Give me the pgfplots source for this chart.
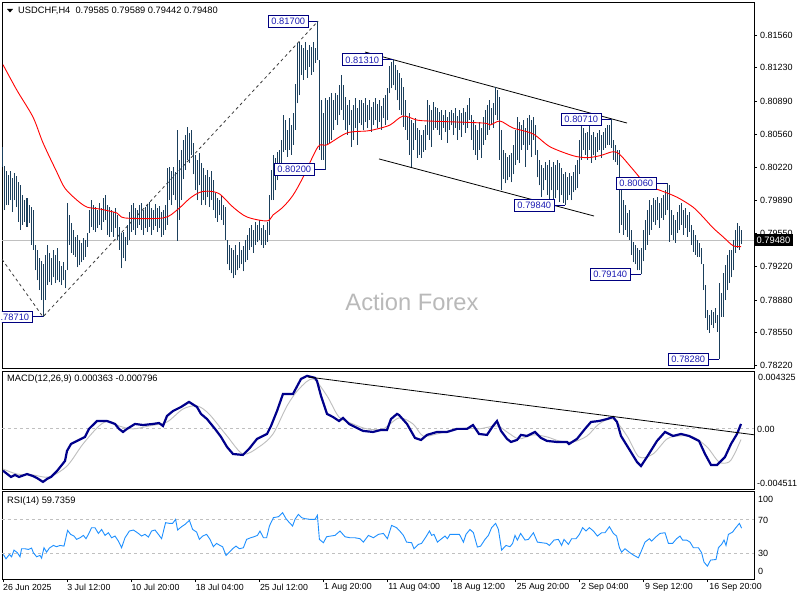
\documentclass[border=0pt]{standalone}
\usepackage{pgfplots}
\pgfplotsset{compat=1.18}
\usepackage{pgfplotstable}
\usepackage{fontspec}
\setmainfont{Liberation Sans}

\definecolor{barcol}{HTML}{1B3F5C}
\definecolor{macdcol}{HTML}{00008B}
\definecolor{sigcol}{HTML}{BEBEBE}
\definecolor{rsicol}{HTML}{1E90FF}
\definecolor{lvlcol}{HTML}{C0C0C0}
\definecolor{boxcol}{HTML}{000080}
\definecolor{boxtxt}{HTML}{1C1CB4}
\definecolor{trendcol}{HTML}{3C3C3C}
\definecolor{wmcol}{HTML}{B9B9B9}

% H4 bars: index, high, low
\pgfplotstableread{
i h l
0 0.8043 0.8023
1 0.8024 0.7979
2 0.8018 0.7984
3 0.8014 0.7984
4 0.8018 0.7989
5 0.8011 0.7977
6 0.8016 0.7989
7 0.8013 0.7982
8 0.8007 0.7967
9 0.8004 0.7959
10 0.7994 0.7964
11 0.7989 0.7967
12 0.7991 0.7962
13 0.7984 0.7966
14 0.7982 0.7944
15 0.7979 0.7939
16 0.7944 0.7918
17 0.7939 0.7908
18 0.7931 0.7898
19 0.7927 0.7888
20 0.7924 0.7871
21 0.7934 0.7888
22 0.7944 0.7903
23 0.7936 0.7906
24 0.7931 0.7903
25 0.7939 0.7911
26 0.7934 0.7905
27 0.7941 0.7908
28 0.7927 0.7906
29 0.7922 0.7903
30 0.7926 0.7908
31 0.7918 0.7900
32 0.7986 0.7918
33 0.7974 0.7944
34 0.7966 0.7936
35 0.7959 0.7934
36 0.7952 0.7932
37 0.7954 0.7921
38 0.7949 0.7923
39 0.7946 0.7926
40 0.7951 0.7929
41 0.7949 0.7932
42 0.7956 0.7942
43 0.7979 0.7956
44 0.7989 0.7962
45 0.7984 0.7959
46 0.7982 0.7957
47 0.7979 0.7961
48 0.7986 0.7964
49 0.7981 0.7959
50 0.7991 0.7967
51 0.7994 0.7969
52 0.7984 0.7954
53 0.7982 0.7952
54 0.7979 0.7957
55 0.7977 0.7952
56 0.7981 0.7961
57 0.7974 0.7949
58 0.7962 0.7939
59 0.7956 0.7920
60 0.7957 0.7931
61 0.7952 0.7927
62 0.7964 0.7944
63 0.7977 0.7949
64 0.7984 0.7957
65 0.7986 0.7959
66 0.7981 0.7954
67 0.7979 0.7961
68 0.7984 0.7964
69 0.7986 0.7959
70 0.7979 0.7954
71 0.7982 0.7961
72 0.7984 0.7957
73 0.7987 0.7962
74 0.7981 0.7954
75 0.7979 0.7959
76 0.7985 0.7963
77 0.7981 0.7957
78 0.7983 0.7961
79 0.7977 0.7952
80 0.7979 0.7954
81 0.7984 0.7959
82 0.8022 0.7964
83 0.8023 0.7989
84 0.8018 0.7984
85 0.8023 0.7994
86 0.8017 0.7989
87 0.8060 0.7948
88 0.8030 0.7969
89 0.8040 0.7989
90 0.8050 0.8010
91 0.8055 0.8020
92 0.8063 0.8030
93 0.8057 0.8027
94 0.8060 0.8035
95 0.8047 0.8015
96 0.8035 0.7999
97 0.8030 0.7989
98 0.8037 0.8004
99 0.8027 0.7984
100 0.8022 0.7989
101 0.8014 0.7984
102 0.8020 0.7992
103 0.8012 0.7982
104 0.8018 0.7989
105 0.8009 0.7979
106 0.7996 0.7971
107 0.7991 0.7967
108 0.7989 0.7974
109 0.7994 0.7969
110 0.7984 0.7964
111 0.7982 0.7949
112 0.7949 0.7924
113 0.7944 0.7918
114 0.7941 0.7915
115 0.7939 0.7910
116 0.7944 0.7913
117 0.7934 0.7918
118 0.7947 0.7920
119 0.7939 0.7924
120 0.7943 0.7917
121 0.7949 0.7926
122 0.7954 0.7929
123 0.7961 0.7939
124 0.7964 0.7942
125 0.7959 0.7936
126 0.7967 0.7944
127 0.7964 0.7947
128 0.7969 0.7949
129 0.7961 0.7944
130 0.7964 0.7941
131 0.7959 0.7944
132 0.7967 0.7947
133 0.7994 0.7954
134 0.8020 0.7989
135 0.8035 0.7989
136 0.8032 0.7999
137 0.8038 0.8009
138 0.8040 0.8020
139 0.8050 0.8025
140 0.8075 0.8038
141 0.8070 0.8040
142 0.8060 0.8033
143 0.8072 0.8040
144 0.8065 0.8035
145 0.8077 0.8045
146 0.8106 0.8060
147 0.8148 0.8087
148 0.8149 0.8095
149 0.8146 0.8116
150 0.8143 0.8111
151 0.8149 0.8121
152 0.8141 0.8113
153 0.8146 0.8124
154 0.8144 0.8116
155 0.8149 0.8119
156 0.8143 0.8128
157 0.8170 0.8131
158 0.8131 0.8040
159 0.8090 0.8030
160 0.8077 0.8030
161 0.8092 0.8020
162 0.8090 0.8045
163 0.8093 0.8047
164 0.8097 0.8050
165 0.8090 0.8060
166 0.8097 0.8070
167 0.8095 0.8065
168 0.8105 0.8075
169 0.8116 0.8080
170 0.8105 0.8070
171 0.8093 0.8060
172 0.8085 0.8055
173 0.8090 0.8065
174 0.8080 0.8043
175 0.8085 0.8050
176 0.8092 0.8062
177 0.8082 0.8045
178 0.8090 0.8067
179 0.8090 0.8065
180 0.8087 0.8060
181 0.8092 0.8068
182 0.8085 0.8062
183 0.8090 0.8070
184 0.8083 0.8058
185 0.8088 0.8065
186 0.8092 0.8070
187 0.8086 0.8062
188 0.8090 0.8068
189 0.8084 0.8060
190 0.8092 0.8072
191 0.8095 0.8065
192 0.8102 0.8070
193 0.8125 0.8097
194 0.8129 0.8102
195 0.8131 0.8105
196 0.8126 0.8100
197 0.8121 0.8090
198 0.8118 0.8080
199 0.8113 0.8075
200 0.8103 0.8063
201 0.8090 0.8060
202 0.8073 0.8050
203 0.8077 0.8035
204 0.8070 0.8023
205 0.8067 0.8040
206 0.8072 0.8050
207 0.8062 0.8032
208 0.8060 0.8035
209 0.8055 0.8032
210 0.8060 0.8038
211 0.8065 0.8040
212 0.8090 0.8055
213 0.8085 0.8050
214 0.8080 0.8043
215 0.8088 0.8060
216 0.8083 0.8062
217 0.8082 0.8060
218 0.8078 0.8055
219 0.8080 0.8050
220 0.8075 0.8062
221 0.8080 0.8058
222 0.8073 0.8047
223 0.8078 0.8060
224 0.8080 0.8065
225 0.8077 0.8055
226 0.8082 0.8062
227 0.8074 0.8050
228 0.8080 0.8060
229 0.8077 0.8053
230 0.8082 0.8065
231 0.8078 0.8057
232 0.8085 0.8062
233 0.8092 0.8070
234 0.8075 0.8050
235 0.8070 0.8040
236 0.8065 0.8035
237 0.8060 0.8030
238 0.8068 0.8040
239 0.8062 0.8032
240 0.8073 0.8045
241 0.8080 0.8050
242 0.8085 0.8055
243 0.8090 0.8060
244 0.8082 0.8065
245 0.8087 0.8062
246 0.8103 0.8075
247 0.8100 0.8070
248 0.8093 0.8030
249 0.8060 0.7999
250 0.8040 0.8010
251 0.8037 0.8006
252 0.8033 0.8009
253 0.8035 0.8012
254 0.8037 0.8007
255 0.8045 0.8015
256 0.8060 0.8025
257 0.8073 0.8030
258 0.8068 0.8027
259 0.8065 0.8040
260 0.8070 0.8045
261 0.8062 0.8023
262 0.8072 0.8040
263 0.8075 0.8045
264 0.8070 0.8033
265 0.8073 0.8050
266 0.8065 0.8035
267 0.8040 0.8012
268 0.8030 0.8004
269 0.8025 0.7992
270 0.8022 0.7999
271 0.8028 0.8009
272 0.8025 0.7994
273 0.8030 0.7989
274 0.8023 0.7999
275 0.8028 0.7986
276 0.8025 0.7991
277 0.8030 0.7999
278 0.8027 0.7987
279 0.8022 0.7994
280 0.8015 0.7986
281 0.8017 0.7984
282 0.8012 0.7989
283 0.8016 0.7994
284 0.8013 0.7989
285 0.8017 0.7997
286 0.8025 0.7999
287 0.8030 0.8001
288 0.8050 0.8015
289 0.8068 0.8030
290 0.8062 0.8040
291 0.8057 0.8035
292 0.8058 0.8030
293 0.8068 0.8040
294 0.8055 0.8027
295 0.8058 0.8035
296 0.8053 0.8030
297 0.8057 0.8038
298 0.8060 0.8040
299 0.8055 0.8032
300 0.8058 0.8040
301 0.8062 0.8042
302 0.8065 0.8045
303 0.8065 0.8045
304 0.8071 0.8042
305 0.8050 0.8030
306 0.8045 0.8028
307 0.8040 0.8025
308 0.8040 0.7956
309 0.7999 0.7964
310 0.7989 0.7954
311 0.7984 0.7959
312 0.7976 0.7952
313 0.7979 0.7949
314 0.7959 0.7934
315 0.7947 0.7926
316 0.7944 0.7924
317 0.7941 0.7918
318 0.7939 0.7918
319 0.7941 0.7914
320 0.7959 0.7927
321 0.7969 0.7939
322 0.7979 0.7944
323 0.7989 0.7954
324 0.7984 0.7959
325 0.7991 0.7967
326 0.7989 0.7964
327 0.7992 0.7969
328 0.7986 0.7961
329 0.7991 0.7971
330 0.7994 0.7969
331 0.7999 0.7974
332 0.8006 0.7979
333 0.8004 0.7947
334 0.7979 0.7954
335 0.7974 0.7949
336 0.7969 0.7946
337 0.7977 0.7956
338 0.7984 0.7959
339 0.7986 0.7964
340 0.7979 0.7954
341 0.7981 0.7961
342 0.7974 0.7952
343 0.7977 0.7957
344 0.7964 0.7944
345 0.7959 0.7937
346 0.7954 0.7934
347 0.7949 0.7932
348 0.7946 0.7932
349 0.7941 0.7924
350 0.7924 0.7898
351 0.7903 0.7870
352 0.7878 0.7858
353 0.7873 0.7855
354 0.7878 0.7863
355 0.7876 0.7860
356 0.7880 0.7865
357 0.7873 0.7856
358 0.7905 0.7828
359 0.7895 0.7871
360 0.7915 0.7871
361 0.7923 0.7888
362 0.7934 0.7898
363 0.7939 0.7905
364 0.7939 0.7911
365 0.7949 0.7918
366 0.7959 0.7936
367 0.7966 0.7941
368 0.7963 0.7939
369 0.79589 0.79442
}\bars

% moving average
\pgfplotstableread{
i v
0 0.8126
7 0.8100
15 0.8073
20 0.8047
27 0.8017
31 0.8001
37 0.7989
42 0.7982
48.5 0.7980
57 0.7976
61 0.7971
80 0.7971
87 0.7979
93.5 0.7991
98.5 0.7997
103.5 0.7998
108.5 0.7995
115 0.7982
122 0.7972
132 0.7968
135 0.7974
140 0.7982
145 0.7994
150 0.8012
157.5 0.8043
162 0.8045
172 0.8057
182 0.8059
187 0.8061
193.5 0.8065
200 0.8074
207 0.8070
213.5 0.8069
240 0.8067
243.5 0.8065
248.5 0.8069
255 0.8062
265 0.8056
273.5 0.8043
285 0.8034
292 0.8032
298.5 0.8034
305 0.8038
308.5 0.8035
315 0.8020
322 0.8004
328.5 0.7999
337 0.7992
345 0.7982
350 0.7972
355 0.7961
360 0.7952
365 0.7943
369 0.7942
}\ma

\pgfplotstableread{
i v
0 -0.00314
4 -0.00361
6 -0.00346
8 -0.00361
12 -0.00339
15 -0.00354
17 -0.00369
20 -0.00398
22 -0.00376
24 -0.00361
27 -0.00316
31 -0.00241
32 -0.00166
34 -0.00114
37 -0.00091
41 -0.00061
43 -0.00001
47 0.00058
52 0.00058
56 0.00036
58 -0.00001
60 -0.00024
62 -0.00001
66 0.00036
70 0.00028
75 0.00036
78 0.00043
80 0.00021
82 0.00096
85 0.00133
89 0.00163
93 0.00201
97 0.00163
99 0.00111
102 0.00073
106 -0.00001
109 -0.00061
112 -0.00136
115 -0.00189
120 -0.00196
123 -0.00151
127 -0.00076
132 -0.00039
134 0.00021
137 0.00133
140 0.00261
145 0.00261
149 0.00373
152 0.00396
156 0.00381
157 0.00358
159 0.00246
162 0.00111
165 0.00088
168 0.00058
170 0.00081
173 0.00036
180 -0.00016
185 -0.00024
189 -0.00009
192 -0.00009
194 0.00073
197 0.00111
198 0.00103
202 0.00036
206 -0.00069
209 -0.00084
212 -0.00046
217 -0.00024
222 -0.00024
227 -0.00001
232 -0.00001
235 0.00028
238 -0.00039
242 -0.00046
245 0.00021
247 0.00058
249 -0.00016
252 -0.00076
254 -0.00099
257 -0.00084
259 -0.00046
262 -0.00054
266 -0.00024
269 -0.00069
272 -0.00091
277 -0.00099
282 -0.00099
283 -0.00114
287 -0.00076
291 -0.00001
294 0.00051
298 0.00058
302 0.00073
305 0.00088
307 0.00051
309 -0.00054
313 -0.00151
317 -0.00249
319 -0.00279
322 -0.00211
327 -0.00091
331 -0.00024
335 -0.00054
339 -0.00039
343 -0.00054
348 -0.00091
351 -0.00189
354 -0.00271
357 -0.00271
361 -0.00211
364 -0.00114
367 -0.00039
369 0.00036
}\macd

\pgfplotstableread{
i v
0 -0.00301
7 -0.00339
15 -0.00346
23 -0.00361
32 -0.00279
40 -0.00114
48 0.00021
53 0.00058
58 0.00021
65 -0.00001
73 0.00021
82 0.00051
90 0.00148
97 0.00171
103 0.00111
112 -0.00054
120 -0.00189
128 -0.00136
135 -0.00039
142 0.00171
148 0.00298
155 0.00373
162 0.00246
168 0.00088
175 0.00036
182 -0.00001
190 -0.00001
198 0.00081
205 0.00036
210 -0.00054
217 -0.00039
223 -0.00016
232 0.00006
238 -0.00001
247 0.00021
252 -0.00024
258 -0.00076
265 -0.00046
272 -0.00061
278 -0.00091
285 -0.00099
292 -0.00054
298 0.00036
305 0.00073
312 -0.00054
318 -0.00211
325 -0.00189
332 -0.00076
338 -0.00054
345 -0.00061
352 -0.00136
358 -0.00249
363 -0.00249
366 -0.00180
369 -0.00080
}\signal

\pgfplotstableread{
i v
0.2 28.8
1.5 23.7
3.2 28.8
4.3 26.1
5.5 33.9
7.2 30.8
8.5 26.1
9.3 35.5
11 35.5
12.7 34.7
14.3 36.3
15.2 30.8
16.8 26.1
18.5 27.7
19.3 24.5
20.5 36.7
21.8 31.6
23.2 36.3
25.2 39.4
26.8 37.9
28.5 39.4
30.5 38.6
32.3 57.1
33.8 52.4
35.5 50.4
36.8 46.5
38.5 48.4
40.2 51.2
41.5 47.3
42.7 52.4
44.3 60.2
46 60.2
47.7 53.5
49.3 58.2
51 51.2
52.7 54.3
54.3 48.4
56 50.4
57.7 44.5
59.3 36.7
61 48.4
63.2 56.3
65.2 57.5
67.7 53.5
69.3 50.4
71 52.4
72.7 49.2
74.3 56.3
76 57.5
77.7 52.4
79.3 47.3
81.3 66.1
83.2 65.3
84.8 65.3
86.3 70
87.3 57.5
89.3 61.4
91 64.1
93.2 68.8
94.8 58.2
96.8 55.1
98.2 46.5
99.8 50.4
101.8 52.4
103.5 46.5
105.2 37.9
106.8 41.8
108.5 39.4
109.8 37.9
111.5 27.7
113.2 31.6
114.8 35.5
116.5 38.6
118.2 35.5
120.2 36.7
121.8 46.5
123.8 48.4
125.5 49.6
127.2 51.2
128.5 56.3
130.2 48.4
131.8 48.4
133.2 62.2
135.2 72
137.7 73.1
139.8 77.8
141.5 70.8
143.2 66.1
144.8 62.2
146 70
147.7 75.9
149.3 72
151 70.8
153.5 70
156 70
157.2 74.7
158.2 46.5
160.2 42.6
161.8 49.6
163.8 50.4
166 51.2
168.5 56.3
171 49.6
173.5 48.4
176 48.4
178.5 47.3
180.2 43.3
182.7 51.2
185.2 48.4
187.7 52.4
190.2 53.5
192.2 47.3
194.3 62.9
196.8 60.2
198.5 56
200.2 51.2
201.8 43.3
204.3 42.6
205.5 35.5
207.7 40.6
209.3 41.8
211.5 49.6
213.2 56.3
214.3 51.2
215.5 52.4
217.2 43.3
219.3 47.3
221 50.4
222.2 47.3
223.5 52.4
226 52.4
228.2 52.4
230.2 43.3
231.5 52.4
233.5 58.2
235.2 54.3
237.2 37.5
238.8 38.6
241 46.5
242.7 51.2
244.3 60.2
246.3 65.3
247.7 58.2
249.3 33.9
251.5 39.4
253.5 37.9
254.8 41.8
256 51.2
257.2 45.7
258.8 53.5
261 45.7
262.7 46.5
265.2 54.3
267.2 43.3
269.3 42.6
271.8 41.8
273.2 39.4
275.5 45.7
277.7 46.5
279.3 39.4
280.5 46.5
282.7 40.6
284.3 47.3
286.5 47.3
288.2 52.4
289.8 60.2
291.5 56.3
293.2 60.2
295.2 56.3
297.2 50.4
299.3 54.3
301 54.3
303.2 61.4
305.2 53.5
306.8 50.4
308.2 36.7
309.3 31.6
311 35.5
313.5 30.8
315.5 27.7
317.7 24.9
318.8 30.8
321 43.3
323.2 47.3
324.3 44.5
326.5 49.6
328.5 53.5
331 54.3
332.7 41.8
334.8 41.8
336.8 47.3
338.5 50.4
339.8 45.7
341.8 45.7
343.5 43.3
345.2 36.7
347.7 36.7
349.3 30.8
350.5 19.8
352.2 15.1
353.8 22.2
356.5 22.9
357.7 36.7
359.3 40.6
360.5 45.7
361.5 39.4
362.7 52.4
364.8 55.1
366 59
368.2 65.3
369.3 59.7
}\rsi

\pgfplotsset{
  panel/.style={scale only axis, width=752pt, xmin=-0.5, xmax=375.5,
    axis line style={black, line width=0.8pt},
    xtick=\empty, ytick=\empty, clip=true},
}
\tikzset{
  plbl/.style={draw=boxcol, fill=white, text=boxtxt, line width=0.8pt,
    inner xsep=3.5pt, inner ysep=2.6pt, text height=6.7pt, text depth=0pt,
    anchor=east, font=\fontsize{9.3}{10}\selectfont},
  lnk/.style={boxcol, line width=0.8pt},
}

\begin{document}
\begin{tikzpicture}[x=1pt, y=1pt, font=\fontsize{9.3}{11}\selectfont]
\path[use as bounding box, fill=white] (0,0) rectangle (800,600);

% price panel
\begin{axis}[panel, name=price, at={(2pt,232pt)}, anchor=south west,
  height=366pt, ymin=0.78193, ymax=0.81894,
  ytick={0.8156,0.8123,0.8089,0.8056,0.8022,0.7989,0.7955,0.7922,0.7888,0.7855,0.7822},
  yticklabels={0.81560,0.81230,0.80890,0.80560,0.80220,0.79890,0.79550,0.79220,0.78880,0.78550,0.78220},
  ytick pos=right, yticklabel pos=right, tick align=outside, major tick length=3pt,
  tick style={black, line width=0.8pt},
  yticklabel style={anchor=west, inner sep=0pt, xshift=3pt, font=\fontsize{9}{10}\selectfont}]
\node[wmcol, font=\fontsize{23.7}{24}\selectfont] at (axis cs:204.5,0.7886) {Action Forex};
\addplot[lvlcol, line width=0.8pt] coordinates {(-0.5,0.7948) (375.5,0.7948)};
\addplot[trendcol, line width=0.8pt, dash pattern=on 3pt off 3pt] coordinates {(-0.5,0.79292) (20,0.7871) (157.5,0.8170)};
\addplot[black, line width=0.8pt] coordinates {(181,0.81388) (312,0.80670)};
\addplot[black, line width=0.8pt] coordinates {(188,0.80307) (295.5,0.79730)};
\addplot[draw=none, mark=none, forget plot,
  error bars/.cd, y dir=plus, y explicit, error mark=none,
  error bar style={draw=barcol, line width=1pt}]
  table[x=i, y=l, y error expr=\thisrow{h}-\thisrow{l}] {\bars};
\addplot[red, line width=0.9pt, smooth, tension=0.5] table[x=i, y=v] {\ma};
% price labels
\draw[lnk] (axis cs:157,0.8170) -- ++(-8pt,0pt) node[plbl] {0.81700};
\draw[lnk] (axis cs:195,0.8131) -- ++(-10pt,0pt) node[plbl] {0.81310};
\draw[lnk] (axis cs:161,0.8020) -- ++(-10pt,0pt) node[plbl] {0.80200};
\draw[lnk] (axis cs:304,0.8071) -- ++(-9pt,0pt) node[plbl] {0.80710};
\draw[lnk] (axis cs:332,0.8006) -- ++(-10pt,0pt) node[plbl] {0.80060};
\draw[lnk] (axis cs:281,0.7984) -- ++(-10pt,0pt) node[plbl] {0.79840};
\draw[lnk] (axis cs:319,0.7914) -- ++(-10pt,0pt) node[plbl] {0.79140};
\draw[lnk] (axis cs:358,0.7828) -- ++(-10pt,0pt) node[plbl] {0.78280};
\begin{scope}
\clip (rel axis cs:0,0) rectangle (rel axis cs:1,1);
\draw[lnk] (axis cs:20,0.7871) -- ++(-10pt,0pt) node[plbl] {0.78710};
\end{scope}
\end{axis}

% MACD panel, plotted in units of 0.001
\begin{axis}[panel, name=macdax, at={(price.south west)}, anchor=north west, yshift=-3pt,
  height=118pt, ymin=-4.511, ymax=4.325]
\addplot[lvlcol, line width=0.8pt, dash pattern=on 3pt off 3pt] coordinates {(-0.5,0) (375.5,0)};
\addplot[sigcol, line width=0.9pt, smooth] table[x=i, y expr=\thisrow{v}*1000] {\signal};
\addplot[macdcol, line width=2.2pt] table[x=i, y expr=\thisrow{v}*1000] {\macd};
\addplot[black, line width=0.8pt] coordinates {(152.5,3.88) (375.5,-0.45)};
\end{axis}

% RSI panel
\begin{axis}[panel, name=rsiax, at={(macdax.south west)}, anchor=north west, yshift=-2.5pt,
  height=87.5pt, ymin=0, ymax=102.7,
  xtick={0,32,64,96,128,160,192,224,256,288,320,352}, xticklabel=\empty,
  xtick pos=bottom, tick align=outside, major tick length=3pt,
  tick style={black, line width=0.8pt}]
\addplot[lvlcol, line width=0.8pt, dash pattern=on 3pt off 3pt] coordinates {(-0.5,70) (375.5,70)};
\addplot[lvlcol, line width=0.8pt, dash pattern=on 3pt off 3pt] coordinates {(-0.5,30) (375.5,30)};
\addplot[rsicol, line width=0.9pt] table[x=i, y=v] {\rsi};
\end{axis}

% header and panel titles
\fill (7,591) -- (13,591) -- (10,587.5) -- cycle;
\node[anchor=west, inner sep=0pt] at (18,589.3) {USDCHF,H4\ \ 0.79585 0.79589 0.79442 0.79480};
\node[anchor=west, inner sep=0pt] at (7,220.7) {MACD(12,26,9) 0.000363 -0.000796};
\node[anchor=west, inner sep=0pt] at (7,99) {RSI(14) 59.7359};

% right-hand scale labels of the indicator panels
\begin{scope}[font=\fontsize{9}{10}\selectfont]
\node[anchor=west, inner sep=0pt] at (758,223) {0.004325};
\node[anchor=west, inner sep=0pt] at (757,170.7) {0.00};
\node[anchor=west, inner sep=0pt] at (757,116.7) {-0.004511};
\node[anchor=west, inner sep=0pt] at (758,100.7) {100};
\node[anchor=west, inner sep=0pt] at (758,80) {70};
\node[anchor=west, inner sep=0pt] at (758,46.7) {30};
\node[anchor=west, inner sep=0pt] at (758,28.3) {0};
\end{scope}

% current price tag
\node[fill=black, text=white, anchor=west, inner xsep=3pt, inner ysep=0pt,
  minimum height=12pt, text height=6.7pt, text depth=0pt,
  font=\fontsize{9.3}{10}\selectfont] at (753.5,359.5) {0.79480};

% time axis labels
\begin{scope}[font=\fontsize{8.8}{10}\selectfont]
\foreach \k/\t in {0/26 Jun 2025, 1/3 Jul 12:00, 2/10 Jul 20:00, 3/18 Jul 04:00,
  4/25 Jul 12:00, 5/1 Aug 20:00, 6/11 Aug 04:00, 7/18 Aug 12:00,
  8/25 Aug 20:00, 9/2 Sep 04:00, 10/9 Sep 12:00, 11/16 Sep 20:00}
  \node[anchor=west, inner sep=0pt] at (3+64.2*\k,13) {\t};
\end{scope}
\end{tikzpicture}
\end{document}
